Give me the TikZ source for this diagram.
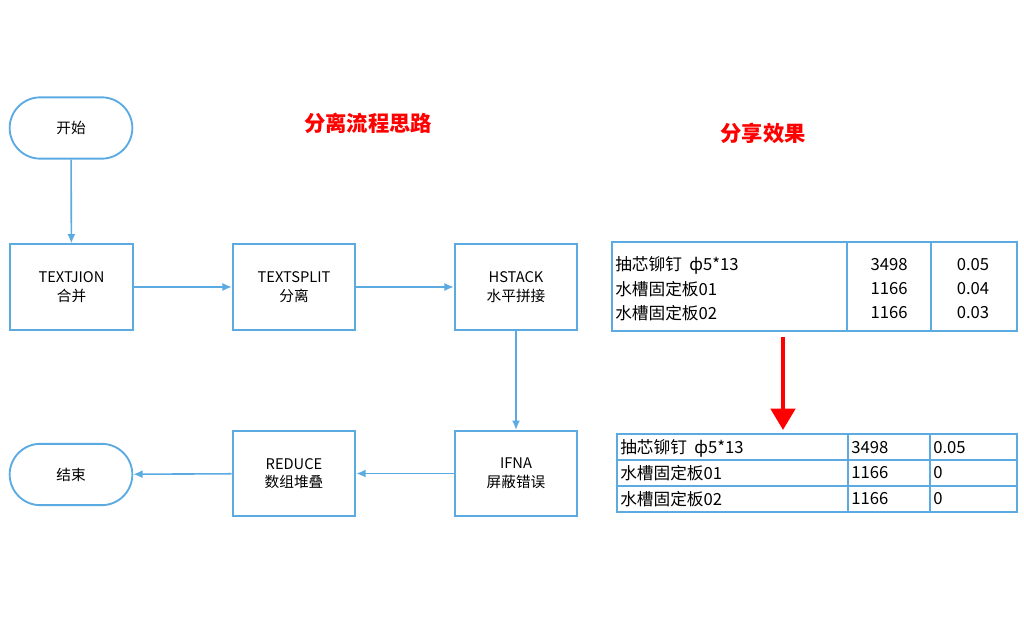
\documentclass[tikz,border=0pt]{standalone}
\usepackage{fontspec}
\setmainfont{Noto Sans CJK SC}
\newfontfamily\tabfont{Noto Sans CJK SC}
\usetikzlibrary{arrows.meta}
\definecolor{bl}{RGB}{91,170,226}
\begin{document}
\begin{tikzpicture}[x=0.75pt,y=-0.75pt,
 box/.style={draw=bl,line width=1.4pt,minimum width=92pt,minimum height=64pt,inner sep=0pt,align=center,font=\fontsize{11}{14}\selectfont},
 term/.style={box,rounded corners=23pt,minimum height=46pt},
 arr/.style={draw=bl,line width=1.2pt,-{Latex[length=7pt,width=6pt]}},
 tl/.style={draw=bl,line width=0.8pt},
 tt/.style={font=\tabfont\fontsize{12.5}{14}\selectfont,inner sep=0pt},
 ttl/.style={text=red,font=\bfseries\fontsize{16}{18}\selectfont}]
\useasboundingbox (0,0) rectangle (1024,627);
\node[term] (start) at (71,128) {开始};
\node[box] (tj) at (71.5,287) {TEXTJION\\合并};
\node[box] (ts) at (294,287) {TEXTSPLIT\\分离};
\node[box] (hs) at (516,287) {HSTACK\\水平拼接};
\node[box] (ifna) at (516,473.5) {IFNA\\屏蔽错误};
\node[box] (red) at (294,473.5) {REDUCE\\数组堆叠};
\node[term] (end) at (71,474.5) {结束};
\draw[arr] (start) -- (tj);
\draw[arr] (tj) -- (ts);
\draw[arr] (ts) -- (hs);
\draw[arr] (hs) -- (ifna);
\draw[arr] (ifna) -- (red);
\draw[arr] (red) -- (end);
\node[ttl] (t1) at (368,123) {分离流程思路};
\node[ttl] (t2) at (763,133) {分享效果};
% top table
\draw[tl] (612,242) rectangle (1017,331);
\draw[tl] (847,242) -- (847,331);
\draw[tl] (931,242) -- (931,331);
\foreach \y/\a/\b/\c in {265/抽芯铆钉\ \ ф5*13/3498/0.05, 289/水槽固定板01/1166/0.04, 313/水槽固定板02/1166/0.03}{
 \node[tt,anchor=west] at (615,\y) {\a};
 \node[tt] at (889,\y) {\b};
 \node[tt] at (973,\y) {\c};
}
% arrow
\coordinate (a1) at (783,337);
\coordinate (a2) at (783,430);
\draw[red,line width=3.5pt,-{Triangle[length=16pt,width=18pt]}] (a1) -- (a2);
% bottom table
\draw[tl] (617,434) rectangle (1017,512);
\draw[tl] (617,460) -- (1017,460);
\draw[tl] (617,486) -- (1017,486);
\draw[tl] (848,434) -- (848,512);
\draw[tl] (930,434) -- (930,512);
\foreach \y/\a/\b/\c in {448/抽芯铆钉\ \ ф5*13/3498/0.05, 473/水槽固定板01/1166/0, 499/水槽固定板02/1166/0}{
 \node[tt,anchor=west] at (620,\y) {\a};
 \node[tt,anchor=west] at (851,\y) {\b};
 \node[tt,anchor=west] at (933,\y) {\c};
}
\end{tikzpicture}
\end{document}
